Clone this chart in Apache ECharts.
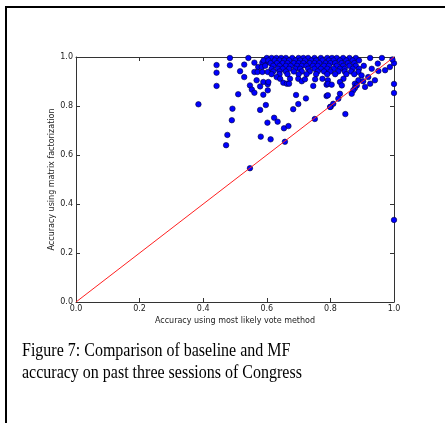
<!DOCTYPE html>
<html><head><meta charset="utf-8">
<script src="https://cdn.jsdelivr.net/npm/echarts@6/dist/echarts.min.js"></script>
<style>html,body{margin:0;padding:0;background:#fff}#c{width:445px;height:423px}</style>
</head><body><div id="c"></div><script>
// Accuracy of most-likely-vote baseline (x) vs matrix factorization (y)
const points = [
  [0.385,0.807],[0.442,0.967],[0.442,0.936],[0.442,0.882],[0.484,0.996],[0.484,0.966],
  [0.516,0.942],[0.529,0.969],[0.529,0.918],[0.542,0.996],[0.561,0.977],[0.573,0.959],
  [0.586,0.977],[0.600,0.980],[0.584,0.959],[0.561,0.939],[0.571,0.939],[0.586,0.939],
  [0.603,0.939],[0.568,0.905],[0.589,0.898],[0.603,0.889],[0.547,0.884],[0.579,0.880],
  [0.553,0.867],[0.561,0.854],[0.510,0.848],[0.589,0.846],[0.603,0.864],
  [0.492,0.789],[0.490,0.742],[0.476,0.682],[0.472,0.640],[0.597,0.804],[0.579,0.784],
  [0.623,0.752],[0.602,0.732],[0.634,0.736],[0.581,0.675],[0.612,0.664],[0.654,0.709],
  [0.668,0.718],[0.657,0.654],[0.547,0.546],[0.751,0.747],[0.847,0.767],[0.683,0.787],
  [0.699,0.808],[0.692,0.845],[0.723,0.831],[0.788,0.841],[0.801,0.797],
  [1.000,0.890],[1.000,0.853],[1.000,0.335],[1.000,0.975],[0.995,0.990],
  // top rows
  [0.600,0.996],[0.615,0.996],[0.630,0.996],[0.645,0.996],[0.660,0.996],[0.680,0.996],
  [0.700,0.996],[0.715,0.996],[0.730,0.996],[0.750,0.996],[0.770,0.996],[0.790,0.996],
  [0.805,0.996],[0.820,0.996],[0.840,0.996],[0.860,0.996],[0.880,0.996],[0.925,0.996],
  [0.962,0.996],
  [0.590,0.986],[0.605,0.986],[0.625,0.986],[0.640,0.986],[0.655,0.986],[0.670,0.986],
  [0.690,0.986],[0.705,0.986],[0.720,0.986],[0.740,0.986],[0.755,0.986],[0.775,0.986],
  [0.795,0.986],[0.810,0.986],[0.830,0.986],[0.850,0.986],[0.870,0.986],[0.890,0.986],
  [0.612,0.975],[0.632,0.975],[0.650,0.975],[0.665,0.975],[0.685,0.975],[0.700,0.975],
  [0.715,0.975],[0.735,0.975],[0.750,0.975],[0.765,0.975],[0.785,0.975],[0.800,0.975],
  [0.815,0.975],[0.835,0.975],[0.855,0.975],[0.875,0.975],[0.949,0.973],
  [0.595,0.964],[0.620,0.964],[0.640,0.964],[0.660,0.964],[0.675,0.964],[0.695,0.964],
  [0.710,0.964],[0.725,0.964],[0.745,0.964],[0.760,0.964],[0.780,0.964],[0.795,0.964],
  [0.820,0.964],[0.840,0.964],[0.860,0.964],[0.880,0.964],[0.905,0.964],[0.987,0.959],
  [0.615,0.952],[0.635,0.952],[0.650,0.952],[0.670,0.952],[0.690,0.952],[0.705,0.952],
  [0.730,0.952],[0.750,0.952],[0.770,0.952],[0.790,0.952],[0.810,0.952],[0.830,0.952],
  [0.845,0.952],[0.870,0.952],[0.890,0.952],[0.930,0.952],[0.972,0.946],
  [0.620,0.941],[0.640,0.941],[0.660,0.941],[0.685,0.941],[0.710,0.941],[0.735,0.941],
  [0.760,0.941],[0.780,0.941],[0.800,0.941],[0.825,0.941],[0.845,0.941],[0.865,0.941],
  [0.888,0.939],[0.951,0.943],
  [0.615,0.930],[0.640,0.930],[0.665,0.930],[0.700,0.930],[0.725,0.930],[0.755,0.930],
  [0.790,0.930],[0.815,0.930],[0.850,0.930],[0.875,0.930],[0.898,0.925],
  // scattered below the band
  [0.631,0.918],[0.642,0.911],[0.652,0.895],[0.663,0.891],[0.673,0.911],[0.670,0.891],
  [0.699,0.911],[0.710,0.901],[0.720,0.909],[0.746,0.882],[0.752,0.909],[0.775,0.911],
  [0.788,0.887],[0.605,0.898],[0.841,0.911],[0.830,0.898],[0.792,0.905],[0.793,0.891],
  [0.804,0.887],[0.836,0.884],[0.919,0.918],[0.888,0.905],[0.903,0.901],[0.877,0.891],
  [0.883,0.884],[0.877,0.873],[0.872,0.864],[0.867,0.850],[0.830,0.850],[0.825,0.830],
  [0.809,0.809],[0.799,0.796],[0.792,0.844],[0.940,0.905],[0.925,0.891],[0.909,0.878]
];
const diagonal = [[0,0],[1,1]];
const tickValues = [0, 0.2, 0.4, 0.6, 0.8, 1.0];
const tickLabels = ['0.0','0.2','0.4','0.6','0.8','1.0'];
const xName = 'Accuracy using most likely vote method';
const yName = 'Accuracy using matrix factorization';
const captionLines = ['Figure 7: Comparison of baseline and MF', 'accuracy on past three sessions of Congress'];

const axisColor = '#333';
const labelFont = {fontSize: 8, color: '#222', fontFamily: 'DejaVu Sans'};
function fmt(v){ const i = tickValues.findIndex(t => Math.abs(t - v) < 1e-9); return i >= 0 ? tickLabels[i] : ''; }
function mkAxis(pos, showLabel, name, gap, rot){
  return {
    type: 'value', min: 0, max: 1, interval: 0.2, position: pos,
    axisLine: {show: true, onZero: false, lineStyle: {color: axisColor, width: 1}},
    axisTick: {show: true, inside: true, length: 4, lineStyle: {color: axisColor, width: 1}},
    axisLabel: Object.assign({show: showLabel, margin: 3, formatter: fmt}, labelFont),
    splitLine: {show: false},
    name: name || '', nameLocation: 'middle', nameGap: gap || 0, nameRotate: rot,
    nameMoveOverlap: false,
    nameTextStyle: labelFont
  };
}
const chart = echarts.init(document.getElementById('c'), null, {renderer: 'canvas'});
const capFont = '16px "Liberation Serif"';
chart.setOption({
  animation: false,
  backgroundColor: '#fff',
  grid: {left: 76, top: 57, width: 318, height: 245, containLabel: false},
  xAxis: [mkAxis('bottom', true, xName, 15), mkAxis('top', false)],
  yAxis: [mkAxis('left', true, yName, 20, 90), mkAxis('right', false)],
  series: [
    {type: 'scatter', data: points, xAxisIndex: 0, yAxisIndex: 0, symbolSize: 5.5,
     itemStyle: {color: '#0000ff', borderColor: '#00003a', borderWidth: 0.6, opacity: 1}, z: 2},
    {type: 'line', data: diagonal, xAxisIndex: 0, yAxisIndex: 0, symbol: 'none',
     lineStyle: {color: '#ff2020', width: 1}, z: 3, silent: true}
  ],
  graphic: [
    {type: 'rect', left: 5, top: 6, shape: {width: 440, height: 2}, style: {fill: '#000'}},
    {type: 'rect', left: 5, top: 6, shape: {width: 2, height: 417}, style: {fill: '#000'}},
    {type: 'text', x: 22, y: 351, scaleY: 1.18, style: {text: captionLines[0], font: capFont, fill: '#000', verticalAlign: 'middle', align: 'left'}},
    {type: 'text', x: 22, y: 373, scaleY: 1.18, style: {text: captionLines[1], font: capFont, fill: '#000', verticalAlign: 'middle', align: 'left'}}
  ]
});
</script></body></html>
